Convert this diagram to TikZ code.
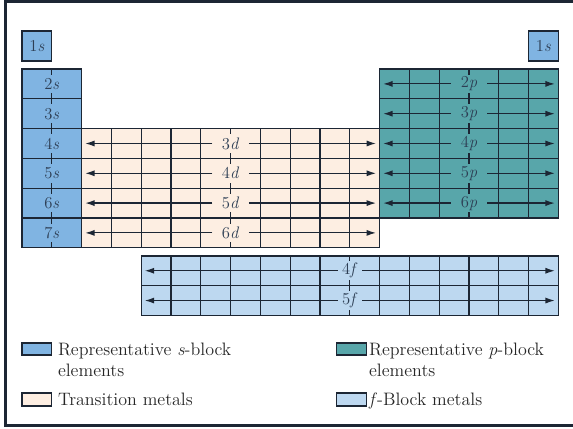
\documentclass[tikz,border=0pt]{standalone}
\usetikzlibrary{arrows.meta}
\definecolor{sblu}{RGB}{128,180,226}
\definecolor{pteal}{RGB}{88,166,170}
\definecolor{dpesca}{RGB}{253,238,226}
\definecolor{fblu}{RGB}{189,216,240}
\definecolor{linea}{RGB}{28,38,52}
\definecolor{testo}{RGB}{45,62,84}
\tikzset{
  cella/.style={draw=linea, line width=1pt},
  etich/.style={fill=#1, text=testo, inner sep=0pt, minimum height=14pt, minimum width=16pt, font=\fontsize{12.5}{14}\selectfont},
  freccia/.style={-{Latex[length=7pt,width=4.5pt]}, line width=0.9pt, draw=linea},
  leg/.style={anchor=north west, inner sep=0pt, align=left, text=black!85, font=\fontsize{13.5}{15.75}\selectfont}
}
\begin{document}
\begin{tikzpicture}[x=22.35pt, y=-22.35pt]
        \useasboundingbox (-0.738,-2.315) rectangle (18.49,12.08);
        % Cornice
        \draw [line width=2pt, linea] (18.6,-2.272) -- (-0.547,-2.272) -- (-0.547,11.973) -- (18.6,11.973);
        % Blocco s
        \draw [cella, fill=sblu] (0,-1.27) rectangle (1,-0.27);
        \draw [cella, fill=sblu] (17,-1.27) rectangle (18,-0.27);
        \draw [cella, fill=sblu] (0,0) rectangle (2,6);
        \draw [cella] (0,1) -- (2,1) (0,2) -- (2,2) (0,3) -- (2,3) (0,4) -- (2,4) (0,5) -- (2,5);
        \draw [cella] (1,0) -- (1,6);
        % Blocco d
        \draw [cella, fill=dpesca] (2,2) rectangle (12,6);
        \draw [cella] (2,3) -- (12,3) (2,4) -- (12,4) (2,5) -- (12,5);
        \draw [cella] (3,2) -- (3,6) (4,2) -- (4,6) (5,2) -- (5,6) (6,2) -- (6,6);
        \draw [cella] (8,2) -- (8,6) (9,2) -- (9,6) (10,2) -- (10,6) (11,2) -- (11,6);
        \draw [cella] (7,2) -- (7,6);
        % Blocco p
        \draw [cella, fill=pteal] (12,0) rectangle (18,5);
        \draw [cella] (12,1) -- (18,1) (12,2) -- (18,2) (12,3) -- (18,3) (12,4) -- (18,4);
        \draw [cella] (13,0) -- (13,5) (14,0) -- (14,5) (16,0) -- (16,5) (17,0) -- (17,5);
        \draw [cella] (15,0) -- (15,5);
        % Blocco f
        \draw [cella, fill=fblu] (4,6.27) rectangle (18,8.27);
        \draw [cella] (4,7.27) -- (18,7.27);
        \draw [cella] (5,6.27) -- (5,8.27) (6,6.27) -- (6,8.27) (7,6.27) -- (7,8.27) (8,6.27) -- (8,8.27) (9,6.27) -- (9,8.27) (10,6.27) -- (10,8.27);
        \draw [cella] (12,6.27) -- (12,8.27) (13,6.27) -- (13,8.27) (14,6.27) -- (14,8.27) (15,6.27) -- (15,8.27) (16,6.27) -- (16,8.27) (17,6.27) -- (17,8.27);
        \draw [cella] (11,6.27) -- (11,8.27);
        % Etichette s
        \node [etich=sblu] (s1a) at (0.5,-0.77) {1\textit{s}};
        \node [etich=sblu] (s1b) at (17.5,-0.77) {1\textit{s}};
        \node [etich=sblu] (s2) at (1,0.5) {2\textit{s}};
        \node [etich=sblu] (s3) at (1,1.5) {3\textit{s}};
        \node [etich=sblu] (s4) at (1,2.5) {4\textit{s}};
        \node [etich=sblu] (s5) at (1,3.5) {5\textit{s}};
        \node [etich=sblu] (s6) at (1,4.5) {6\textit{s}};
        \node [etich=sblu] (s7) at (1,5.5) {7\textit{s}};
        % Etichette d
        \node [etich=dpesca, minimum width=27pt] (d3) at (7,2.5) {3\textit{d}};
        \node [etich=dpesca, minimum width=27pt] (d4) at (7,3.5) {4\textit{d}};
        \node [etich=dpesca, minimum width=27pt] (d5) at (7,4.5) {5\textit{d}};
        \node [etich=dpesca, minimum width=27pt] (d6) at (7,5.5) {6\textit{d}};
        \draw [freccia] (d3.west) -- (2.12,2.5);  \draw [freccia] (d3.east) -- (11.88,2.5);
        \draw [freccia] (d4.west) -- (2.12,3.5);  \draw [freccia] (d4.east) -- (11.88,3.5);
        \draw [freccia] (d5.west) -- (2.12,4.5);  \draw [freccia] (d5.east) -- (11.88,4.5);
        \draw [freccia] (d6.west) -- (2.12,5.5);  \draw [freccia] (d6.east) -- (11.88,5.5);
        % Etichette p
        \node [etich=pteal, minimum width=27pt] (p2) at (15,0.5) {2\textit{p}};
        \node [etich=pteal, minimum width=27pt] (p3) at (15,1.5) {3\textit{p}};
        \node [etich=pteal, minimum width=27pt] (p4) at (15,2.5) {4\textit{p}};
        \node [etich=pteal, minimum width=27pt] (p5) at (15,3.5) {5\textit{p}};
        \node [etich=pteal, minimum width=27pt] (p6) at (15,4.5) {6\textit{p}};
        \draw [freccia] (p2.west) -- (12.12,0.5);  \draw [freccia] (p2.east) -- (17.88,0.5);
        \draw [freccia] (p3.west) -- (12.12,1.5);  \draw [freccia] (p3.east) -- (17.88,1.5);
        \draw [freccia] (p4.west) -- (12.12,2.5);  \draw [freccia] (p4.east) -- (17.88,2.5);
        \draw [freccia] (p5.west) -- (12.12,3.5);  \draw [freccia] (p5.east) -- (17.88,3.5);
        \draw [freccia] (p6.west) -- (12.12,4.5);  \draw [freccia] (p6.east) -- (17.88,4.5);
        % Etichette f
        \node [etich=fblu, minimum width=18pt] (f4) at (11,6.77) {4\textit{f}};
        \node [etich=fblu, minimum width=18pt] (f5) at (11,7.77) {5\textit{f}};
        \draw [freccia] (f4.west) -- (4.12,6.77);  \draw [freccia] (f4.east) -- (17.88,6.77);
        \draw [freccia] (f5.west) -- (4.12,7.77);  \draw [freccia] (f5.east) -- (17.88,7.77);
        % Legenda
        \draw [cella, fill=sblu] (0,9.19) rectangle (1,9.6);
        \node [leg] (legs) at (1.2,9.19) {Representative \textit{s}-block\\elements};
        \draw [cella, fill=dpesca] (0,10.87) rectangle (1,11.31);
        \node [leg] (legd) at (1.2,10.87) {Transition metals};
        \draw [cella, fill=pteal] (10.56,9.19) rectangle (11.57,9.6);
        \node [leg] (legp) at (11.64,9.19) {Representative \textit{p}-block\\elements};
        \draw [cella, fill=fblu] (10.56,10.87) rectangle (11.57,11.31);
        \node [leg] (legf) at (11.64,10.87) {\textit{f}-Block metals};
    \end{tikzpicture}
\end{document}
